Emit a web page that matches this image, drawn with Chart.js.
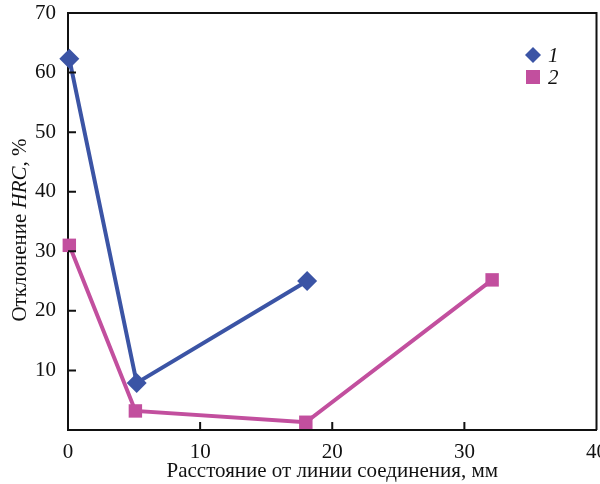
<!DOCTYPE html>
<html>
<head>
<meta charset="utf-8">
<script src="https://cdn.jsdelivr.net/npm/chart.js@4"></script>
<style>
  html, body { margin: 0; padding: 0; background: #fff; overflow: hidden; }
  #wrap { width: 600px; height: 484px; overflow: hidden; }
</style>
</head>
<body>
<div id="wrap"><canvas id="myChart" width="609" height="484"></canvas></div>
<script>
const serif = "'Liberation Serif', 'DejaVu Serif', serif";

// series 1 (diamonds)
const xOne = [0.1, 5.2, 18.1];
const yOne = [62.3, 7.9, 25.0];
// series 2 (squares)
const xTwo = [0.1, 5.1, 18.0, 32.1];
const yTwo = [31.0, 3.2, 1.3, 25.2];

const labelOne = "1";
const labelTwo = "2";
const xTicks = [0, 10, 20, 30, 40];
const yTicks = [10, 20, 30, 40, 50, 60, 70];

const blue = "#3b54a5";
const pink = "#c24f9e";

const toPoints = (xs, ys) => xs.map((x, i) => ({ x: x, y: ys[i] }));

// frame, inward ticks, legend and y title drawn on top
const extras = {
  id: "extras",
  beforeDatasetsDraw(chart) {
    const ctx = chart.ctx;
    const a = chart.chartArea;
    ctx.save();
    ctx.strokeStyle = "#111";
    ctx.lineWidth = 2;
    ctx.beginPath();
    ctx.moveTo(a.left, a.top);
    ctx.lineTo(a.right, a.top);
    ctx.lineTo(a.right, a.bottom);
    ctx.stroke();
    ctx.restore();
  },
  afterDraw(chart) {
    const ctx = chart.ctx;
    const xs = chart.scales.x, ys = chart.scales.y;
    const a = chart.chartArea;
    ctx.save();
    ctx.strokeStyle = "#111";
    ctx.lineWidth = 2;
    ctx.beginPath();
    xTicks.forEach((t) => {
      if (t === 0 || t === 40) return;
      const px = xs.getPixelForValue(t);
      ctx.moveTo(px, a.bottom);
      ctx.lineTo(px, a.bottom - 8);
    });
    yTicks.forEach((t) => {
      if (t === 70) return;
      const py = ys.getPixelForValue(t);
      ctx.moveTo(a.left, py);
      ctx.lineTo(a.left + 8, py);
    });
    ctx.stroke();

    // legend
    ctx.fillStyle = blue;
    ctx.beginPath();
    ctx.moveTo(533, 47); ctx.lineTo(541, 55); ctx.lineTo(533, 63); ctx.lineTo(525, 55);
    ctx.closePath();
    ctx.fill();
    ctx.fillStyle = pink;
    ctx.fillRect(526, 70, 14, 14);
    ctx.fillStyle = "#111";
    ctx.font = "italic 21px " + serif;
    ctx.textBaseline = "middle";
    ctx.fillText(labelOne, 548, 56);
    ctx.fillText(labelTwo, 548, 78);

    // y title with italic HRC
    ctx.translate(20, 230);
    ctx.rotate(-Math.PI / 2);
    const p1 = "Отклонение ", p2 = "HRC", p3 = ", %";
    const fN = "21px " + serif, fI = "italic 21px " + serif;
    ctx.font = fN; const w1 = ctx.measureText(p1).width, w3 = ctx.measureText(p3).width;
    ctx.font = fI; const w2 = ctx.measureText(p2).width;
    let x0 = -(w1 + w2 + w3) / 2;
    ctx.textBaseline = "middle";
    ctx.font = fN; ctx.fillText(p1, x0, 0); x0 += w1;
    ctx.font = fI; ctx.fillText(p2, x0, 0); x0 += w2;
    ctx.font = fN; ctx.fillText(p3, x0, 0);
    ctx.restore();
  }
};

new Chart(document.getElementById("myChart"), {
  type: "scatter",
  data: {
    datasets: [
      {
        label: labelOne,
        data: toPoints(xOne, yOne),
        showLine: true,
        borderColor: blue,
        backgroundColor: blue,
        borderWidth: 4,
        pointStyle: "rectRot",
        pointRadius: 10,
        pointBorderWidth: 0,
        clip: false
      },
      {
        label: labelTwo,
        data: toPoints(xTwo, yTwo),
        showLine: true,
        borderColor: pink,
        backgroundColor: pink,
        borderWidth: 4,
        pointStyle: "rect",
        pointRadius: 9.5,
        pointBorderWidth: 0,
        clip: false
      }
    ]
  },
  options: {
    responsive: false,
    animation: false,
    layout: { padding: { top: 13, right: 3, left: 0, bottom: 0 } },
    plugins: { legend: { display: false }, tooltip: { enabled: false } },
    scales: {
      x: {
        type: "linear",
        min: 0, max: 40,
        afterBuildTicks: (s) => { s.ticks = xTicks.map((v) => ({ value: v })); },
        afterFit: (s) => { s.height = 54; },
        border: { color: "#111", width: 2 },
        grid: { display: false },
        ticks: { color: "#111", font: { family: serif, size: 21 }, padding: 2, maxRotation: 0 },
        title: {
          display: true,
          text: "Расстояние от линии соединения, мм",
          color: "#111",
          font: { family: serif, size: 21 },
          padding: { top: 0, bottom: 0 }
        }
      },
      y: {
        type: "linear",
        min: 0, max: 70,
        afterBuildTicks: (s) => { s.ticks = yTicks.map((v) => ({ value: v })); },
        afterFit: (s) => { s.width = 68; s.paddingTop = 0; },
        border: { color: "#111", width: 2 },
        grid: { display: false },
        ticks: { color: "#111", font: { family: serif, size: 21 }, padding: 4 }
      }
    }
  },
  plugins: [extras]
});
</script>
</body>
</html>
